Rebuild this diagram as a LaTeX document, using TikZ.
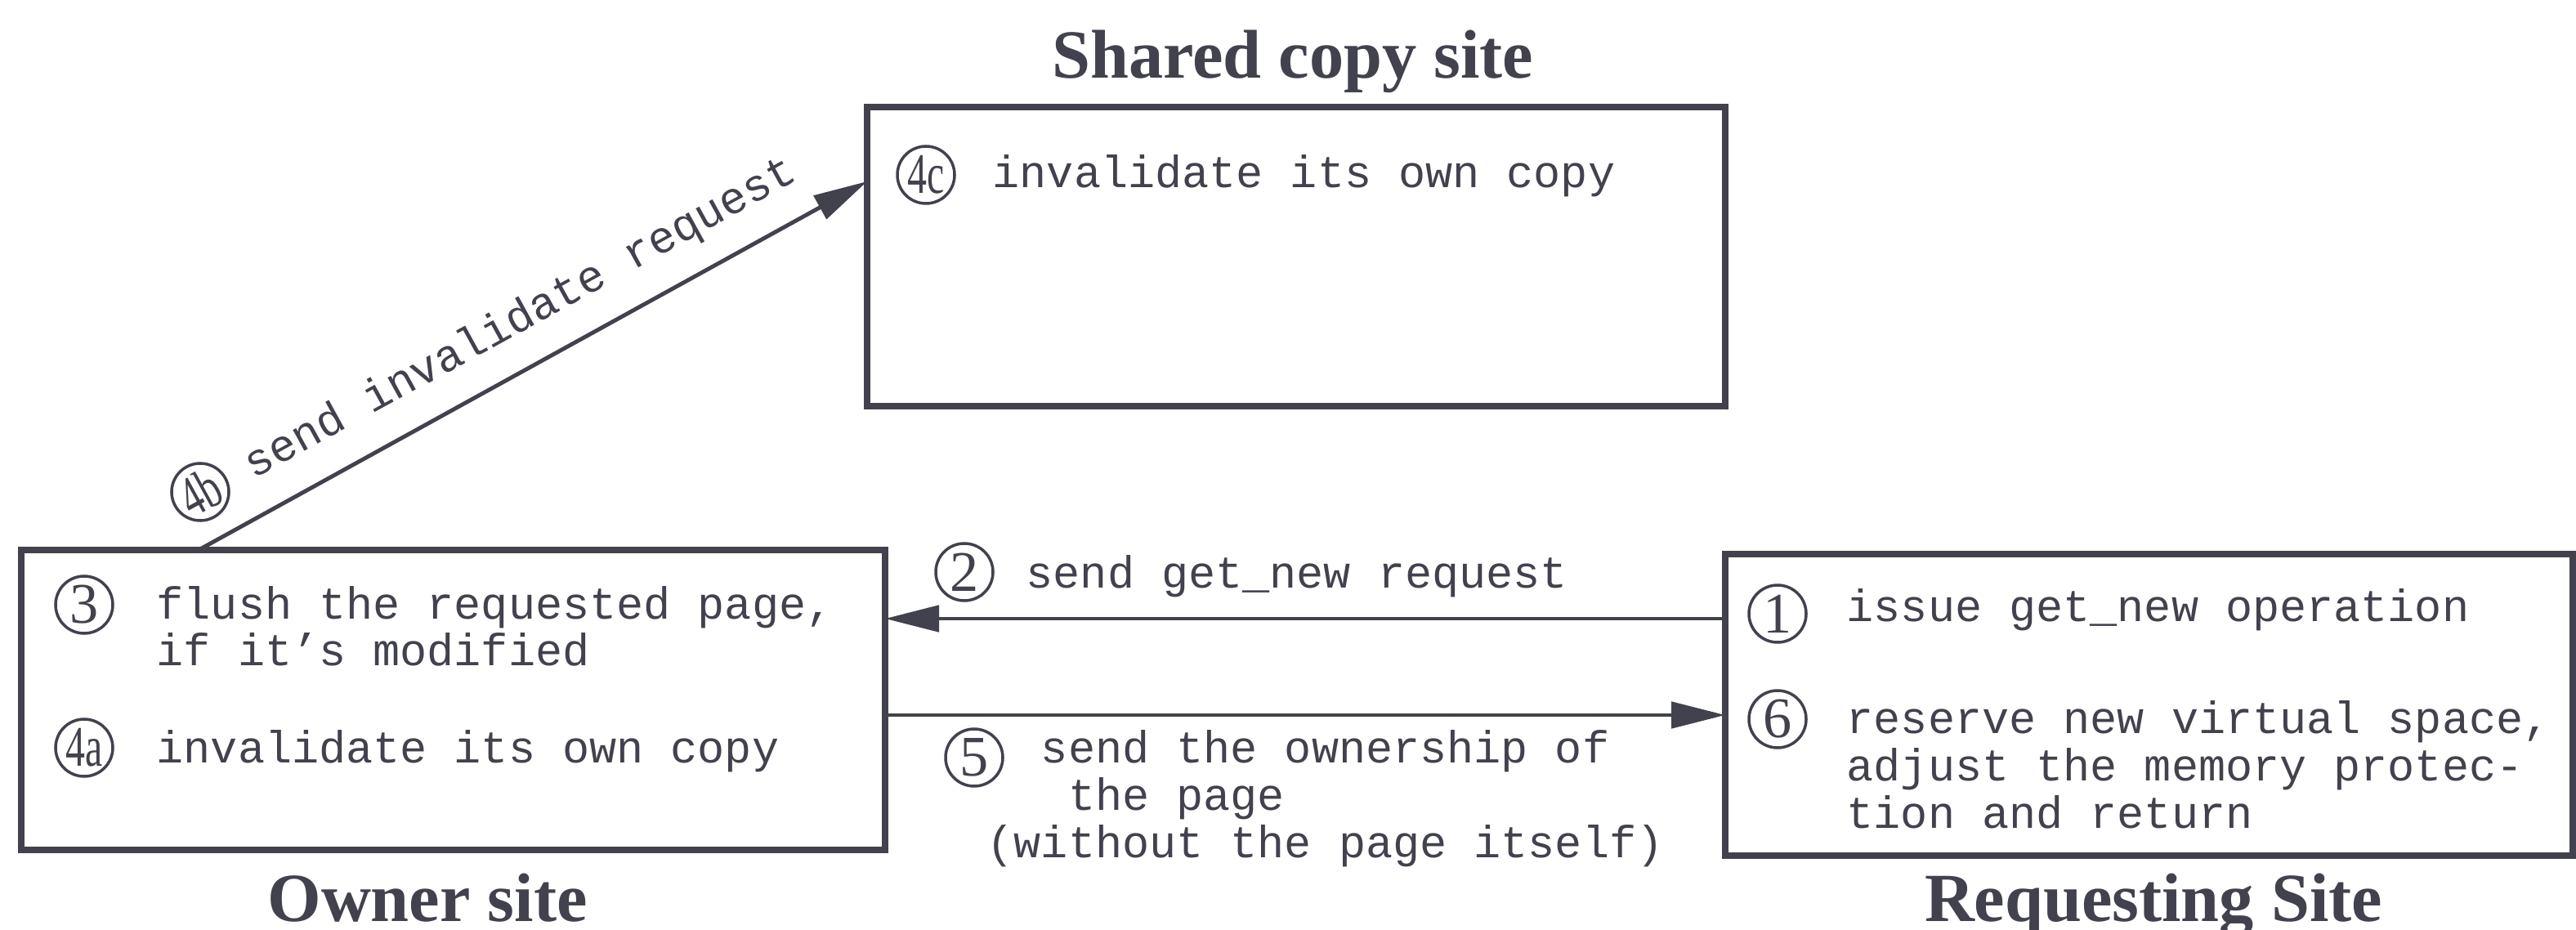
\documentclass[tikz,border=0pt]{standalone}
\usepackage{fontspec}
\usepackage{graphicx}
\setmainfont{Liberation Serif}
\setmonofont{Liberation Mono}
\usetikzlibrary{arrows.meta}
\definecolor{ink}{RGB}{66,66,78}
\tikzset{
  site/.style={draw=ink, line width=2.3pt, inner sep=0pt, outer sep=0pt, anchor=north west},
  title/.style={font=\fontsize{24}{28}\selectfont\bfseries, text=ink, anchor=base, inner sep=0pt},
  % multi-line texts sit on the baseline of their last line
  msg/.style={font=\fontsize{15.7}{16.5}\selectfont\ttfamily, text=ink, align=left, anchor=base west, inner sep=0pt},
  num/.style={circle, draw=ink, line width=1pt, inner sep=0pt, minimum size=0.7cm, text=ink, font=\fontsize{20}{20}\selectfont},
  arr/.style={draw=ink, line width=1.4pt, -{Triangle[length=0.66cm,width=0.32cm]}},
}
% squeezed step labels like 4a
\newcommand{\sq}[1]{\scalebox{0.68}[1]{#1}}
\begin{document}
\begin{tikzpicture}
\useasboundingbox (0,0) rectangle (31.52,-11.38);
% the three sites
\node[site, minimum width=10.5cm, minimum height=3.66cm] (shared) at (10.61,-1.31) {};
\node[site, minimum width=10.57cm, minimum height=3.67cm] (owner) at (0.26,-6.73) {};
\node[site, minimum width=10.37cm, minimum height=3.69cm] (req) at (21.11,-6.78) {};
\node[title] (tshared) at (15.82,-0.96) {Shared copy site};
\node[title] (towner) at (5.23,-11.27) {Owner site};
\node[title] (treq) at (26.35,-11.27) {Requesting Site};

% steps done at each site
\node[num] (n4c) at (11.33,-2.14) {\sq{4c}};
\node[msg] (t4c) at (12.14,-2.30) {invalidate its own copy};
\node[num] (n3) at (1.03,-7.40) {3};
\node[msg] (t3) at (1.91,-8.15) {flush the requested page,\\if it’s modified};
\node[num] (n4a) at (1.03,-9.15) {\sq{4a}};
\node[msg] (t4a) at (1.91,-9.33) {invalidate its own copy};
\node[num] (n1) at (21.75,-7.51) {1};
\node[msg] (t1) at (22.59,-7.60) {issue get\_new operation};
\node[num] (n6) at (21.75,-8.80) {6};
\node[msg] (t6) at (22.59,-10.13) {reserve new virtual space,\\adjust the memory protec-\\tion and return};

% messages between the sites
\coordinate (m2) at ([yshift=1.055cm]req.west);
\draw[arr] (m2) -- (m2 -| owner.east);
\node[num] (n2) at (11.80,-7.00) {2};
\node[msg] (t2) at (12.55,-7.20) {send get\_new request};

\coordinate (m5) at ([yshift=-0.185cm]owner.east);
\draw[arr] (m5) -- (m5 -| req.west);
\node[num] (n5) at (11.92,-9.27) {5};
\node[msg] (t5) at (12.07,-10.49) {\hphantom{xx}send the ownership of\\\hphantom{xxx}the page\\(without the page itself)};

\coordinate (m4) at ([xshift=2.17cm]owner.north west);
\draw[arr] (m4) -- ([yshift=-0.91cm]shared.north west);
\node[num, rotate=28.8] (n4b) at (2.45,-6.02) {\sq{4b}};
\node[msg, rotate=28.8] (t4b) at (3.10,-5.87) {send invalidate request};
\end{tikzpicture}
\end{document}
